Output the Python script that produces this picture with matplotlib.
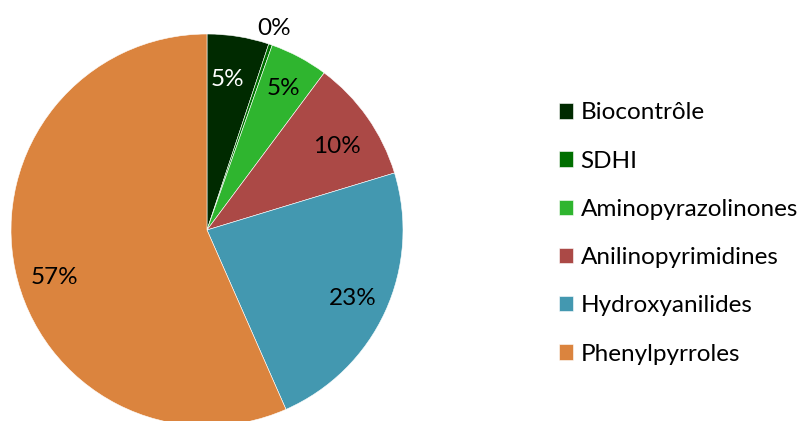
import matplotlib
matplotlib.use("Agg")
import matplotlib.pyplot as plt
import numpy as np

categories = ["Biocontrôle", "SDHI", "Aminopyrazolinones", "Anilinopyrimidines", "Hydroxyanilides", "Phenylpyrroles"]
values = [5.1, 0.3, 4.8, 10.1, 23.1, 56.6]
colors = ["#002a00", "#006f00", "#2fb52f", "#ab4946", "#4398b0", "#db843e"]
label_colors = ["white", "black", "black", "black", "black", "black"]
# label nudges in pixels (right, down) to mimic the original placement
label_nudge = [(-5, 6), (-3, 2), (2, -1), (0, 8), (1, 2), (3, 15)]

plt.rcParams['font.family'] = ['Lato', 'DejaVu Sans']

W, H = 803, 421
fig = plt.figure(figsize=(W / 100, H / 100), dpi=100)
cx, cy, r = 207, 230, 196
ax = fig.add_axes([(cx - r) / W, (H - cy - r) / H, 2 * r / W, 2 * r / H])
wedges, texts, autotexts = ax.pie(
    values, colors=colors, startangle=90, counterclock=False,
    autopct=lambda p: f"{p:.0f}%", pctdistance=0.81,
    wedgeprops=dict(edgecolor="white", linewidth=0.4),
    textprops=dict(fontsize=17.5))
w = wedges[1]
ang = np.deg2rad((w.theta1 + w.theta2) / 2)
autotexts[1].set_position((1.1 * np.cos(ang), 1.1 * np.sin(ang)))
for t, c, (dx, dy) in zip(autotexts, label_colors, label_nudge):
    t.set_color(c)
    x, y = t.get_position()
    t.set_position((x + dx / r, y - dy / r))
for wd in wedges:
    wd.set_clip_on(False)
ax.set_xlim(-1, 1)
ax.set_ylim(-1, 1)
ax.set_aspect("equal")
ax.axis("off")

fig.legend(wedges, categories, loc="center left", bbox_to_anchor=(549 / W, 1 - 233.5 / H),
           frameon=False, fontsize=17.5, handlelength=0.6, handleheight=0.6,
           handletextpad=0.3, labelspacing=1.12, borderaxespad=0)
fig.savefig("out.png", dpi=100)
